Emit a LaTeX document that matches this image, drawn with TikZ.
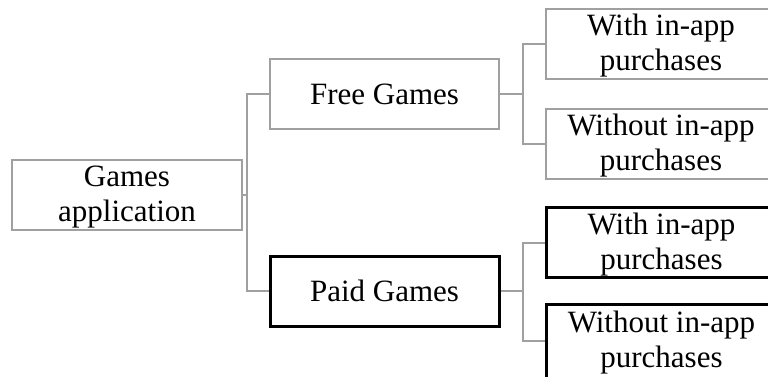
\documentclass[tikz,border=0pt]{standalone}
\usepackage{fontspec}
\setmainfont{Liberation Serif}
\usepackage{tikz}
\definecolor{linegray}{RGB}{160,160,160}
\newcommand{\topgap}{\rule{0pt}{25pt}}

\tikzset{
  gbox/.style={draw=linegray, line width=2pt, fill=white, rectangle,
    minimum width=230pt, minimum height=70pt, inner sep=0pt, align=center,
    font=\fontsize{31}{35}\selectfont},
  bbox/.style={gbox, draw=black, line width=3pt},
  conn/.style={draw=linegray, line width=2pt}
}

\begin{document}
\begin{tikzpicture}[x=1pt,y=-1pt]
  \useasboundingbox (0,0) rectangle (768,376);
  \clip (0,0) rectangle (768,376);

  \node[gbox] (root) at (127,195) {\topgap Games\\application};

  \node[gbox, minimum width=229pt] (free) at (384.5,94) {Free Games};
  \node[bbox, minimum width=229pt] (paid) at (384.5,291) {Paid Games};

  \node[gbox, anchor=west] (wi1) at (545,44) {\topgap With in-app\\purchases};
  \node[gbox, anchor=west] (wo1) at (545,143.5) {\topgap Without in-app\\purchases};
  \node[bbox, anchor=west] (wi2) at (545,242.5) {\topgap With in-app\\purchases};
  % bottom edge runs past the page
  \node[bbox, anchor=west, minimum height=74pt] (wo2) at (545,341) {\topgap Without in-app\\purchases};

  \coordinate (j1) at (247,195);
  \coordinate (j2) at (523,94);
  \coordinate (j3) at (523,291);

  \draw[conn] (root.east) -- (j1) |- (free.west);
  \draw[conn] (j1) |- (paid.west);

  \draw[conn] (free.east) -- (j2) |- (wi1.west);
  \draw[conn] (j2) |- (wo1.west);

  \draw[conn] (paid.east) -- (j3) |- (wi2.west);
  \draw[conn] (j3) |- (wo2.west);

\end{tikzpicture}
\end{document}
